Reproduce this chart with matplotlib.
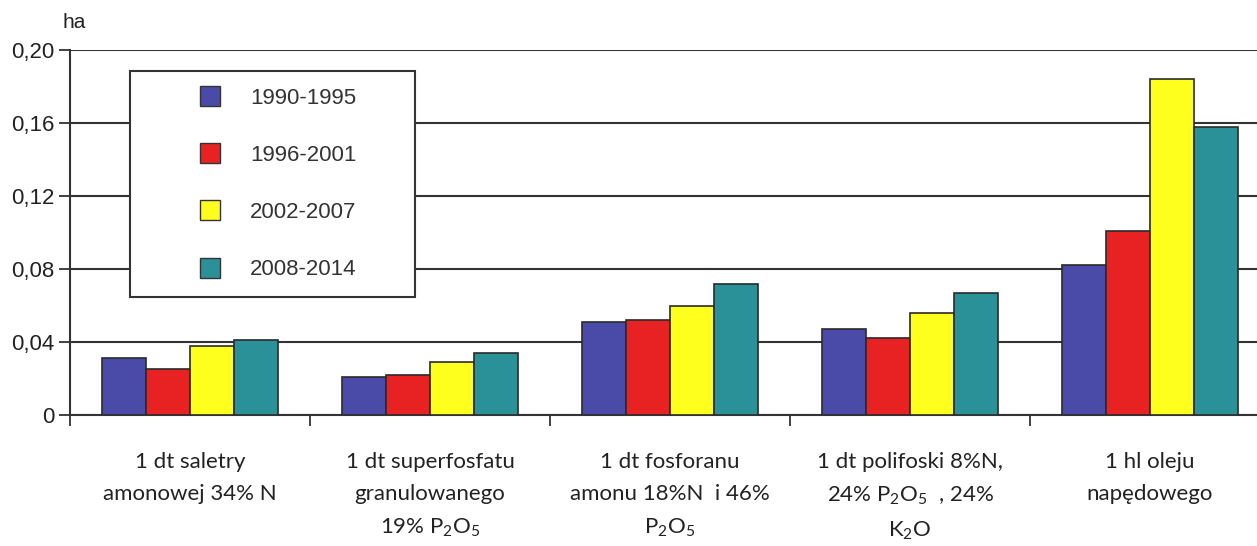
import numpy as np
import matplotlib
matplotlib.use("Agg")
import matplotlib.pyplot as plt
from matplotlib.lines import Line2D

# dane (ha)
kategorie = [
    "1 dt saletry\namonowej 34% N",
    "1 dt superfosfatu\ngranulowanego\n19% P$_2$O$_5$",
    "1 dt fosforanu\namonu 18%N  i 46%\nP$_2$O$_5$",
    "1 dt polifoski 8%N,\n24% P$_2$O$_5$  , 24%\nK$_2$O",
    "1 hl oleju\nnapędowego",
]
okresy = ["1990-1995", "1996-2001", "2002-2007", "2008-2014"]
v_1990_1995 = [0.031, 0.021, 0.051, 0.047, 0.082]
v_1996_2001 = [0.025, 0.022, 0.052, 0.042, 0.101]
v_2002_2007 = [0.038, 0.029, 0.060, 0.056, 0.184]
v_2008_2014 = [0.041, 0.034, 0.072, 0.067, 0.158]
y_ticks = [0, 0.04, 0.08, 0.12, 0.16, 0.20]
y_labels = ["0", "0,04", "0,08", "0,12", "0,16", "0,20"]

serie = [v_1990_1995, v_1996_2001, v_2002_2007, v_2008_2014]
kolory = ["#4a4aa8", "#e82222", "#ffff1e", "#2a9199"]

plt.rcParams["font.family"] = ["Liberation Sans", "DejaVu Sans"]
plt.rcParams["mathtext.fontset"] = "custom"
plt.rcParams["mathtext.rm"] = "Lato"
plt.rcParams["mathtext.default"] = "regular"

fig = plt.figure(figsize=(12.57, 5.46), dpi=100)
ax = fig.add_axes([70 / 1257, 131 / 546, 1187 / 1257, 365 / 546])

x = np.arange(len(kategorie))
w = 0.183
for i, (vals, c) in enumerate(zip(serie, kolory)):
    ax.bar(x + (i - 1.5) * w, vals, w, color=c, edgecolor="#2a2a2a",
           linewidth=1.2, zorder=3)

ax.set_xlim(-0.5, 4.446)
ax.set_ylim(0, 0.20)
ax.set_yticks(y_ticks)
ax.set_yticklabels(y_labels, fontsize=16, color="#222222")
ax.yaxis.grid(True, color="#333333", linewidth=1.5, zorder=0)
ax.set_axisbelow(True)

ax.set_xticks(np.arange(-0.5, 4.5, 1.0))
ax.set_xticklabels([])
ax.set_xticks(x, minor=True)
ax.set_xticklabels(kategorie, minor=True, fontsize=16, family="Lato",
                   color="#222222", linespacing=1.72)
ax.tick_params(axis="x", which="minor", length=0, pad=27)
ax.tick_params(axis="x", which="major", length=8, width=1.3, color="#333333")
ax.tick_params(axis="y", length=8, width=1.3, color="#333333", pad=3)

for s in ["top", "right"]:
    ax.spines[s].set_visible(False)
for s in ["left", "bottom"]:
    ax.spines[s].set_color("#333333")
    ax.spines[s].set_linewidth(1.5)

fig.text(63 / 1257, 1 - 22 / 546, "ha", fontsize=15, color="#222222",
         ha="left", va="center")

uchwyty = [Line2D([], [], marker="s", linestyle="none", markersize=14.5,
                  markerfacecolor=c, markeredgecolor="#333333")
           for c in kolory]
leg = ax.legend(uchwyty, okresy, loc="upper left", mode="expand",
                bbox_to_anchor=(130 / 1257, 1 - 297 / 546, 285 / 1257, 226 / 546),
                bbox_transform=fig.transFigure, borderaxespad=0, fontsize=16,
                fancybox=False, framealpha=1, edgecolor="#333333",
                labelspacing=1.63, borderpad=0.75, handlelength=5.7,
                handletextpad=-1.04, labelcolor="#333333")
leg.get_frame().set_linewidth(1.5)
leg.set_zorder(5)

fig.savefig("out.png", dpi=100)
